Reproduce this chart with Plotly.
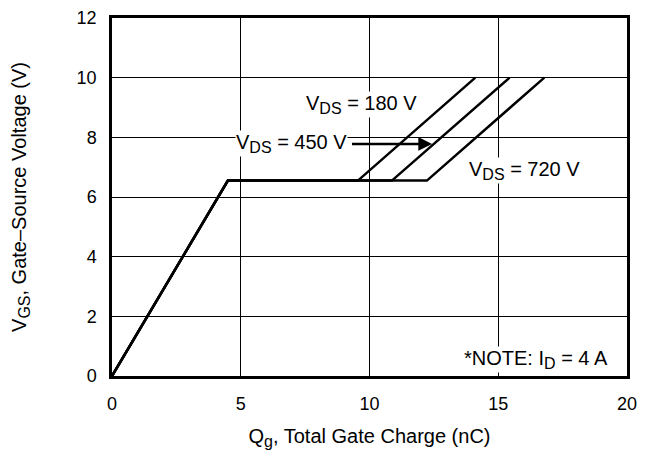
import plotly.graph_objects as go

# Data (nC, V)
rise_q = [0, 4.5]
rise_v = [0, 6.55]
plateau_v = 6.55
vds_labels = ["180 V", "450 V", "720 V"]
plateau_end_q = [9.55, 10.87, 12.23]
top_q = [14.11, 15.44, 16.79]
top_v = 10.0

x_ticks = [0, 5, 10, 15, 20]
y_ticks = [0, 2, 4, 6, 8, 10, 12]

FONT = "Liberation Sans, Arial, sans-serif"


def sub(s, size=16):
    return f"<sub><span style='font-size:{size}px'>{s}</span></sub>"


fig = go.Figure()
for i, lab in enumerate(vds_labels):
    fig.add_trace(go.Scatter(
        x=rise_q + [plateau_end_q[i], top_q[i]],
        y=rise_v + [plateau_v, top_v],
        mode="lines", line=dict(color="black", width=2.5),
        name=lab, showlegend=False, hoverinfo="skip"))

annots = [
    dict(x=12.43, y=7.78, ax=9.3, ay=7.78, axref="x", ayref="y",
         text="", showarrow=True, arrowhead=2, arrowsize=1.1, arrowwidth=2.5,
         arrowcolor="black", standoff=0),
    dict(x=9.67, y=9.1, text="V" + sub("DS") + " = 180 V", showarrow=False,
         xanchor="center", yanchor="middle", bgcolor="white"),
    dict(x=9.15, y=7.8, text="V" + sub("DS") + " = 450 V", showarrow=False,
         xanchor="right", yanchor="middle", bgcolor="white"),
    dict(x=16.0, y=6.9, text="V" + sub("DS") + " = 720 V", showarrow=False,
         xanchor="center", yanchor="middle", bgcolor="white"),
    dict(x=19.3, y=0.55, text="*NOTE: I" + sub("D") + " = 4 A", showarrow=False,
         xanchor="right", yanchor="middle", bgcolor="white"),
]
for a in annots:
    a.setdefault("font", dict(family=FONT, size=20, color="black"))
    a["xref"] = "x"
    a["yref"] = "y"
    a["borderpad"] = 0
    fig.add_annotation(**a)

# page body has an 8px margin: figure drawn at offset (8, 8)
fig.update_layout(
    width=641, height=443,
    margin=dict(l=104, r=22, t=10, b=75),
    paper_bgcolor="white", plot_bgcolor="white",
    font=dict(family=FONT, size=18, color="black"),
)
fig.update_xaxes(
    range=[0, 20], tickvals=x_ticks, showgrid=True, gridcolor="black", gridwidth=1,
    showline=True, linecolor="black", linewidth=2.5, mirror=True, zeroline=False,
    ticks="outside", ticklen=10, tickcolor="rgba(0,0,0,0)", tickfont=dict(size=18),
    automargin=False, ticklabeloverflow="allow",
    title=dict(text="Q" + sub("g", 16) + ", Total Gate Charge (nC)",
               font=dict(size=20), standoff=16),
)
fig.update_yaxes(
    range=[0, 12], tickvals=y_ticks, showgrid=True, gridcolor="black", gridwidth=1,
    showline=True, linecolor="black", linewidth=2.5, mirror=True, zeroline=False,
    ticks="outside", ticklen=9, tickcolor="rgba(0,0,0,0)", tickfont=dict(size=18),
    automargin=False, ticklabeloverflow="allow",
    title=dict(text="V" + sub("GS", 16) + ", Gate\u2013Source Voltage (V)",
               font=dict(size=20), standoff=46),
)

fig.write_html("out.html")
